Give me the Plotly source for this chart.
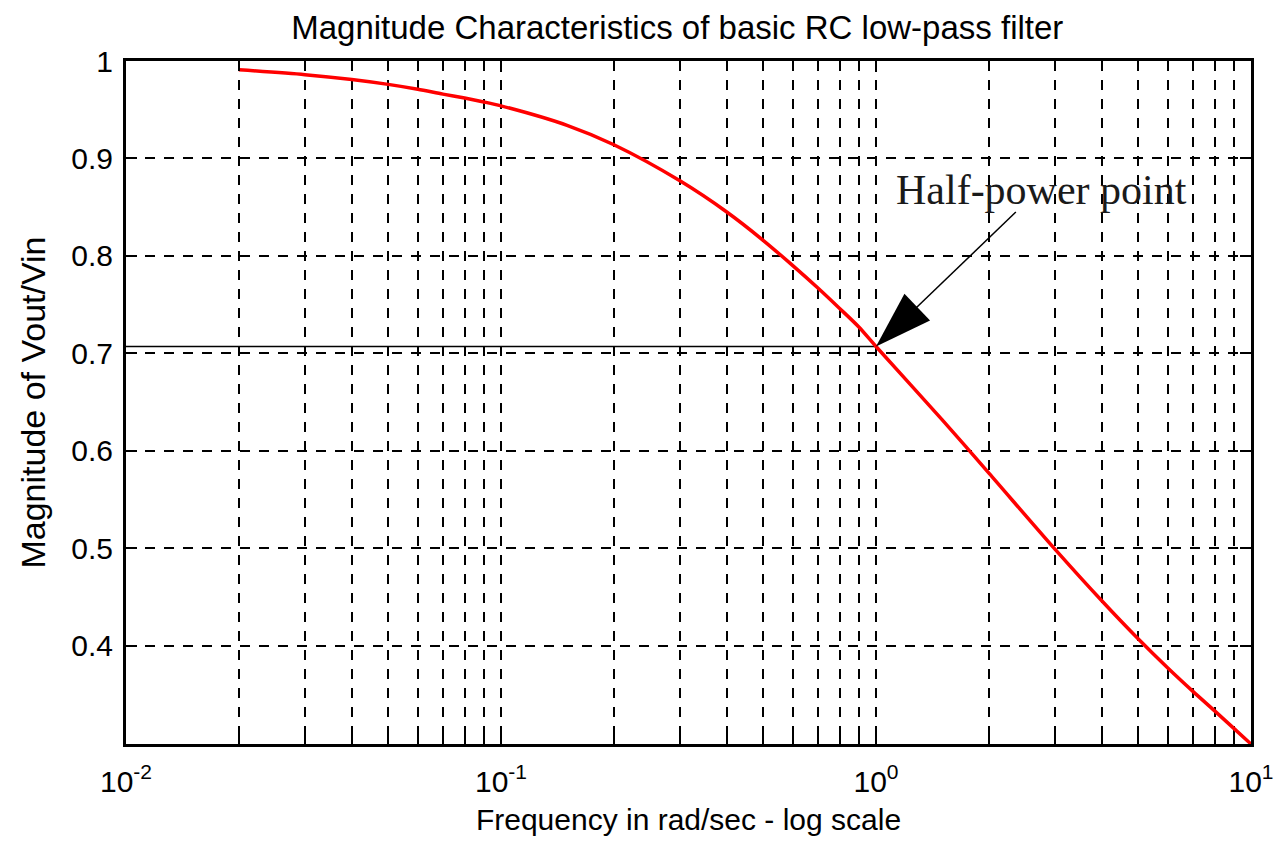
import math
import plotly.graph_objects as go

# ---- data ----
FREQ = [0.02, 0.03, 0.04, 0.05, 0.06, 0.07, 0.08, 0.09, 0.1, 0.15, 0.2, 0.3, 0.4, 0.5,
        0.6, 0.7, 0.8, 0.9, 1.0, 1.5, 2, 3, 4, 5, 6, 7, 8, 9, 10]
MAG = [0.991, 0.986, 0.981, 0.976, 0.971, 0.966, 0.962, 0.958, 0.954, 0.934, 0.914, 0.877,
       0.845, 0.816, 0.790, 0.767, 0.746, 0.727, 0.707, 0.632, 0.577, 0.499, 0.446, 0.407,
       0.377, 0.353, 0.333, 0.315, 0.299]

HALF_POWER_X = [0.01, 1.0]
HALF_POWER_Y = [0.707, 0.707]

ARROW_X = [2.36, 1.0]      # tail, tip
ARROW_Y = [0.845, 0.707]
ANNOT_TEXT = "Half-power point"
ANNOT_X, ANNOT_Y = 2.76, 0.868

Y_TICKS = [0.4, 0.5, 0.6, 0.7, 0.8, 0.9, 1.0]
Y_TICKTEXT = ["0.4", "0.5", "0.6", "0.7", "0.8", "0.9", "1"]
X_TICKS = [0.01, 0.1, 1, 10]
X_TICKTEXT = ["10<sup>-2</sup>", "10<sup>-1</sup>", "10<sup>0</sup>", "10<sup>1</sup>"]

TITLE = "Magnitude Characteristics of basic RC low-pass filter"
XLABEL = "Frequency in rad/sec - log scale"
YLABEL = "Magnitude of Vout/Vin"

FONT = "Liberation Sans, Arial, sans-serif"
GRID_DASH = "10px,9px"

fig = go.Figure()

fig.add_trace(go.Scatter(x=HALF_POWER_X, y=HALF_POWER_Y, mode="lines",
                         line=dict(color="black", width=1.5), showlegend=False,
                         hoverinfo="skip"))
fig.add_trace(go.Scatter(x=FREQ, y=MAG, mode="lines",
                         line=dict(color="#ff0000", width=3.5, shape="spline", smoothing=0.8),
                         showlegend=False))
fig.add_trace(go.Scatter(x=ARROW_X, y=ARROW_Y, mode="lines+markers",
                         line=dict(color="black", width=1.5),
                         marker=dict(symbol="arrow", size=[0, 60], color="black",
                                     line=dict(width=0), opacity=1,
                                     angleref="previous", standoff=0),
                         showlegend=False, hoverinfo="skip"))

fig.add_annotation(x=math.log10(ANNOT_X), y=ANNOT_Y, xref="x", yref="y", text=ANNOT_TEXT,
                   showarrow=False, xanchor="center", yanchor="middle",
                   font=dict(family="Liberation Serif, Times New Roman, serif",
                             size=42, color="#1a1a1a"))

fig.update_layout(
    width=1286, height=845,
    margin=dict(l=126, r=28, t=61, b=101),
    paper_bgcolor="white", plot_bgcolor="white",
    font=dict(family=FONT, size=30, color="black"),
    title=dict(text=TITLE, x=0.49, xref="paper", y=1 - 27 / 845, yref="container",
               yanchor="middle", xanchor="center",
               font=dict(family=FONT, size=33, color="black")),
)

fig.update_xaxes(
    type="log", range=[-2, 1],
    tickvals=X_TICKS, ticktext=X_TICKTEXT,
    ticks="inside", ticklen=11, tickwidth=2, tickcolor="black",
    ticklabelstandoff=9,
    showline=True, linewidth=3, linecolor="black", mirror="ticks",
    showgrid=True, gridcolor="black", gridwidth=1.5, griddash=GRID_DASH,
    minor=dict(dtick="D1", ticks="inside", ticklen=10, tickwidth=1.5, tickcolor="black",
               showgrid=True, gridcolor="black", gridwidth=1.5, griddash=GRID_DASH),
    zeroline=False,
    tickfont=dict(family=FONT, size=30),
    title=dict(text=XLABEL, standoff=12, font=dict(family=FONT, size=30)),
)
fig.update_yaxes(
    range=[0.299, 1.0],
    tickvals=Y_TICKS, ticktext=Y_TICKTEXT,
    ticks="inside", ticklen=11, tickwidth=2, tickcolor="black",
    ticklabelstandoff=4,
    showline=True, linewidth=3, linecolor="black", mirror="ticks",
    showgrid=True, gridcolor="black", gridwidth=1.5, griddash=GRID_DASH,
    zeroline=False,
    tickfont=dict(family=FONT, size=30),
    title=dict(text=YLABEL, standoff=16, font=dict(family=FONT, size=34)),
)

fig.write_html("out.html")
